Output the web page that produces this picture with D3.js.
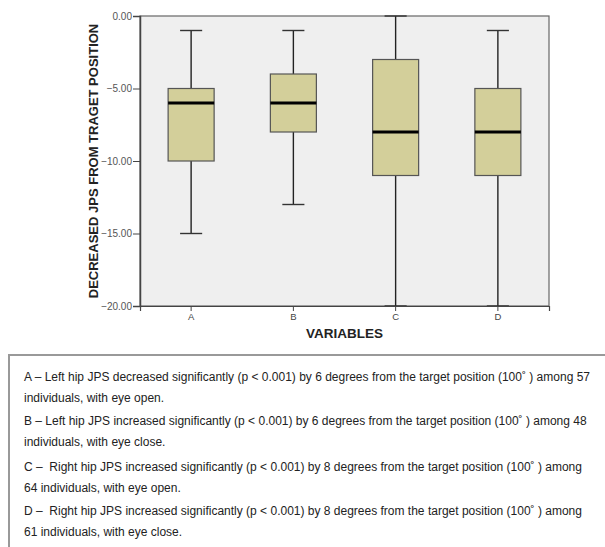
<!DOCTYPE html>
<html>
<head>
<meta charset="utf-8">
<script src="https://cdn.jsdelivr.net/npm/d3@7"></script>
<style>
  body { margin: 0; background: #fff; }
  svg { display: block; font-family: "Liberation Sans", Arial, sans-serif; }
</style>
</head>
<body>
<div id="chart"></div>
<script>
// box plot values
var categories = ["A", "B", "C", "D"];
var whiskerLow = [-15, -13, -20, -20];
var q1 = [-10, -8, -11, -11];
var median = [-6, -6, -8, -8];
var q3 = [-5, -4, -3, -5];
var whiskerHigh = [-1, -1, 0, -1];
var yTicks = [0, -5, -10, -15, -20];

var notes = [
  ["A \u2013 Left hip JPS decreased significantly (p < 0.001) by 6 degrees from the target position (100\u02DA ) among 57",
   "individuals, with eye open."],
  ["B \u2013 Left hip JPS increased significantly (p < 0.001) by 6 degrees from the target position (100\u02DA ) among 48",
   "individuals, with eye close."],
  ["C \u2013  Right hip JPS increased significantly (p < 0.001) by 8 degrees from the target position (100\u02DA ) among",
   "64 individuals, with eye open."],
  ["D \u2013  Right hip JPS increased significantly (p < 0.001) by 8 degrees from the target position (100\u02DA ) among",
   "61 individuals, with eye close."]
];

var W = 605, H = 547;
var plot = {left: 140, right: 549, top: 16, bottom: 306};

var svg = d3.select("#chart").append("svg")
  .attr("width", W)
  .attr("height", H);

var x = d3.scaleBand()
  .domain(categories)
  .range([plot.left, plot.right])
  .paddingInner(0)
  .paddingOuter(0);

var y = d3.scaleLinear()
  .domain([-20, 0])
  .range([plot.bottom, plot.top]);

var boxes = categories.map(function(c, i) {
  return {cat: c, lo: whiskerLow[i], q1: q1[i], med: median[i], q3: q3[i], hi: whiskerHigh[i]};
});

// plot background
svg.append("rect")
  .attr("x", plot.left)
  .attr("y", plot.top)
  .attr("width", plot.right - plot.left)
  .attr("height", plot.bottom - plot.top)
  .style("fill", "#efefef")
  .style("stroke", "#666")
  .style("stroke-width", 1.2);

var bw = x.bandwidth() * 0.45,
    capW = bw * 0.48;

var g = svg.selectAll("g.box")
  .data(boxes)
  .enter().append("g")
  .attr("class", "box")
  .attr("transform", function(d) { return "translate(" + (x(d.cat) + x.bandwidth() / 2) + ",0)"; });

// whisker stems
g.append("line")
  .attr("x1", 0).attr("x2", 0)
  .attr("y1", function(d) { return y(d.hi); })
  .attr("y2", function(d) { return y(d.q3); })
  .style("stroke", "#222").style("stroke-width", 1.4);
g.append("line")
  .attr("x1", 0).attr("x2", 0)
  .attr("y1", function(d) { return y(d.q1); })
  .attr("y2", function(d) { return y(d.lo); })
  .style("stroke", "#222").style("stroke-width", 1.4);

// caps
g.append("line")
  .attr("x1", -capW / 2).attr("x2", capW / 2)
  .attr("y1", function(d) { return y(d.hi); })
  .attr("y2", function(d) { return y(d.hi); })
  .style("stroke", "#333").style("stroke-width", 1.4);
g.append("line")
  .attr("x1", -capW / 2).attr("x2", capW / 2)
  .attr("y1", function(d) { return y(d.lo); })
  .attr("y2", function(d) { return y(d.lo); })
  .style("stroke", "#333").style("stroke-width", 1.4);

// boxes
g.append("rect")
  .attr("x", -bw / 2)
  .attr("width", bw)
  .attr("y", function(d) { return y(d.q3); })
  .attr("height", function(d) { return y(d.q1) - y(d.q3); })
  .style("fill", "#d3cf9a")
  .style("stroke", "#555")
  .style("stroke-width", 1.2);

// medians
g.append("line")
  .attr("x1", -bw / 2).attr("x2", bw / 2)
  .attr("y1", function(d) { return y(d.med); })
  .attr("y2", function(d) { return y(d.med); })
  .style("stroke", "#000").style("stroke-width", 3);

// axes
var yAxis = d3.axisLeft(y)
  .tickValues(yTicks)
  .tickFormat(d3.format(".2f"))
  .tickSize(7)
  .tickPadding(1);
var ya = svg.append("g")
  .attr("transform", "translate(" + plot.left + ",0)")
  .call(yAxis);
ya.select(".domain").style("stroke", "#444").style("stroke-width", 1.5);
ya.selectAll(".tick line").style("stroke", "#444");
ya.selectAll("text")
  .style("font-size", "10px")
  .style("fill", "#555")
  .style("font-family", "'Liberation Sans', Arial, sans-serif");

var xAxis = d3.axisBottom(x).tickSize(5).tickPadding(2);
var xa = svg.append("g")
  .attr("transform", "translate(0," + plot.bottom + ")")
  .call(xAxis);
xa.select(".domain").style("stroke", "#444").style("stroke-width", 1.2);
xa.selectAll(".tick line").style("stroke", "#444");
xa.selectAll("text")
  .style("font-size", "9.5px")
  .style("fill", "#444")
  .style("font-family", "'Liberation Sans', Arial, sans-serif");

// axis titles
svg.append("text")
  .attr("x", (plot.left + plot.right) / 2)
  .attr("y", 338)
  .attr("text-anchor", "middle")
  .style("font-size", "13.5px")
  .style("font-weight", "bold")
  .style("fill", "#222")
  .text("VARIABLES");

svg.append("text")
  .attr("transform", "translate(98," + ((plot.top + plot.bottom) / 2) + ") rotate(-90)")
  .attr("text-anchor", "middle")
  .style("font-size", "13px")
  .style("font-weight", "bold")
  .style("fill", "#222")
  .text("DECREASED JPS FROM TRAGET POSITION");

// notes frame (runs off the right and bottom edges)
svg.append("path")
  .attr("d", "M9," + (H + 5) + " V355 H" + (W + 5))
  .style("fill", "none")
  .style("stroke", "#999")
  .style("stroke-width", 2);

var paraTop = [381, 425, 471, 515];
var notes_g = svg.append("g");
notes.forEach(function(lines, i) {
  lines.forEach(function(line, j) {
    notes_g.append("text")
      .attr("x", 24)
      .attr("y", paraTop[i] + j * 21)
      .style("font-size", "12px")
      .style("white-space", "pre")
      .style("fill", "#222")
      .text(line);
  });
});
</script>
</body>
</html>
